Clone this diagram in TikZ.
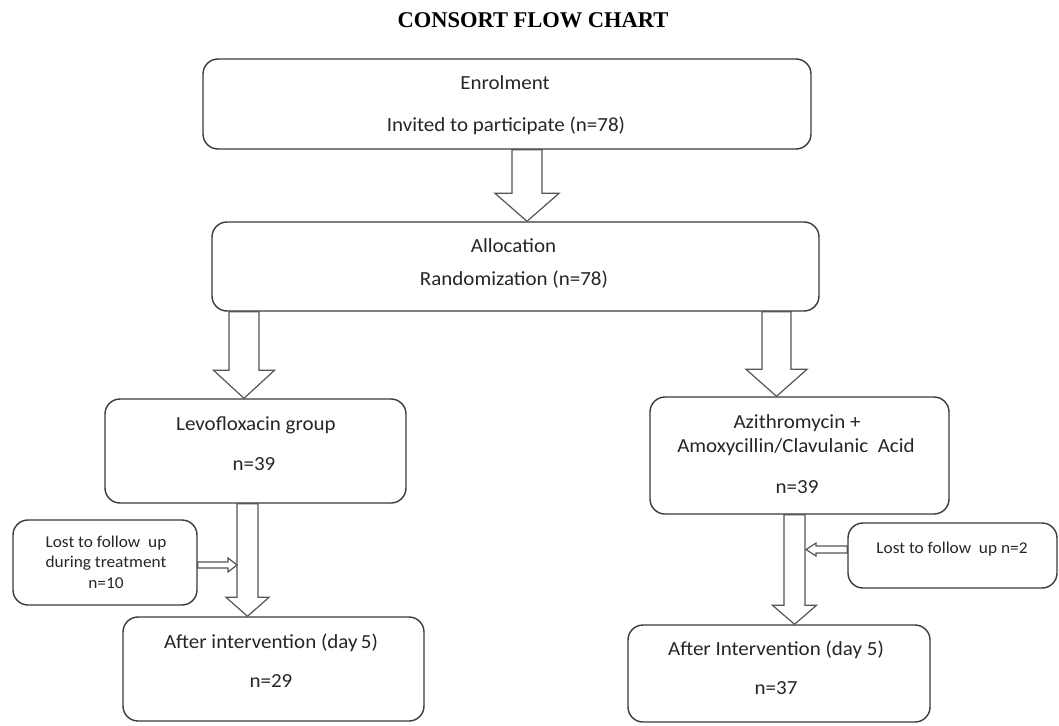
\documentclass[tikz,border=0pt]{standalone}
\usepackage{fontspec}
\setmainfont{Carlito}[FakeStretch=1.05]
\newfontfamily\titlefont{Liberation Serif}
\usetikzlibrary{calc}
\definecolor{boxline}{HTML}{3A3A3A}
\definecolor{arrline}{HTML}{555555}
\newcommand\mainsz{\fontsize{20pt}{24pt}\selectfont}
\newcommand\smallsz{\fontsize{16.5pt}{20pt}\selectfont}
% vertical block arrow: x, from node, to node, shaft half width, head half width, head length
\newcommand\vblockarrow[6]{%
  \draw[blockarrow] let \p1=(#1,0 |- #2.south), \p2=(#1,0 |- #3.north) in
    ({\x1-#4pt},\y1) -- ({\x1-#4pt},{\y2+#6pt}) -- ({\x1-#5pt},{\y2+#6pt}) -- (\x1,\y2)
    -- ({\x1+#5pt},{\y2+#6pt}) -- ({\x1+#4pt},{\y2+#6pt}) -- ({\x1+#4pt},\y1) -- cycle;}
% horizontal block arrow: start, tip, shaft half width, head half width, signed head length
\newcommand\hblockarrow[5]{%
  \draw[blockarrow] let \p1=(#1), \p2=(#2) in
    (\x1,{\y2+#3pt}) -- ({\x2-(#5pt)},{\y2+#3pt}) -- ({\x2-(#5pt)},{\y2+#4pt}) -- (\x2,\y2)
    -- ({\x2-(#5pt)},{\y2-#4pt}) -- ({\x2-(#5pt)},{\y2-#3pt}) -- (\x1,{\y2-#3pt}) -- cycle;}
\begin{document}
\begin{tikzpicture}[x=1pt,y=-1pt,
  box/.style={draw=boxline, line width=1.4pt, rounded corners=15pt, inner sep=0pt, fill=white},
  blockarrow/.style={draw=arrline, line width=1.2pt, fill=white, line join=miter},
  txt/.style={inner sep=0pt, anchor=base, font=\mainsz, text=black!85},
  stxt/.style={inner sep=0pt, anchor=base, font=\smallsz, text=black!85}]
\useasboundingbox (0,0) rectangle (1059,725);

\node[inner sep=0pt, anchor=base, font=\titlefont\bfseries\fontsize{22.5pt}{26pt}\selectfont] (title) at (533,28) {CONSORT FLOW CHART};

% boxes
\node[box, minimum width=608pt, minimum height=90pt] (enrol) at (507,104) {};
\node[box, minimum width=607pt, minimum height=89pt] (alloc) at (515.5,266.5) {};
\node[box, minimum width=301pt, minimum height=104pt] (levo) at (255.5,451) {};
\node[box, minimum width=299pt, minimum height=117pt] (azi) at (799.5,455.5) {};
\node[box, minimum width=184pt, minimum height=85pt] (lostL) at (105,562.5) {};
\node[box, minimum width=209pt, minimum height=65pt] (lostR) at (952.5,555.5) {};
\node[box, minimum width=301pt, minimum height=104pt] (afterL) at (273.5,669) {};
\node[box, minimum width=302pt, minimum height=97pt] (afterR) at (779,673.5) {};

% texts
\node[txt] (t1a) at (505,89) {Enrolment};
\node[txt] (t1b) at (506,131) {Invited to participate (n=78)};
\node[txt] (t2a) at (513.5,252) {Allocation};
\node[txt] (t2b) at (514,285) {Randomization (n=78)};
\node[txt] (t3a) at (256,430) {Levofloxacin group};
\node[txt] (t3b) at (254,470) {n=39};
\node[txt] (t4a) at (797,428) {Azithromycin +};
\node[txt] (t4b) at (796,452) {Amoxycillin/Clavulanic\ \ Acid};
\node[txt] (t4c) at (797,493) {n=39};
\node[stxt] (t5a) at (106,547) {Lost to follow\ \ up};
\node[stxt] (t5b) at (106,567) {during treatment};
\node[stxt] (t5c) at (106,588) {n=10};
\node[stxt] (t6a) at (952,553) {Lost to follow\ \ up n=2};
\node[txt] (t7a) at (271,648) {After intervention (day\,5)};
\node[txt] (t7b) at (271,687) {n=29};
\node[txt] (t8a) at (776,655) {After Intervention (day 5)};
\node[txt] (t8b) at (776,694) {n=37};

% block arrows
\vblockarrow{527}{enrol}{alloc}{15}{32}{28}
\vblockarrow{244}{alloc}{levo}{15}{30.5}{28}
\vblockarrow{776.5}{alloc}{azi}{14.5}{30.5}{27}
\vblockarrow{247.5}{levo}{afterL}{10.5}{21.5}{19}
\vblockarrow{794.5}{azi}{afterR}{10.5}{22}{19}

\coordinate (sL) at (237,565);
\coordinate (sR) at (806,549.5);
\hblockarrow{lostL.east |- sL}{sL}{3}{7}{9}
\hblockarrow{lostR.west |- sR}{sR}{3.5}{6.5}{-10}
\end{tikzpicture}
\end{document}
